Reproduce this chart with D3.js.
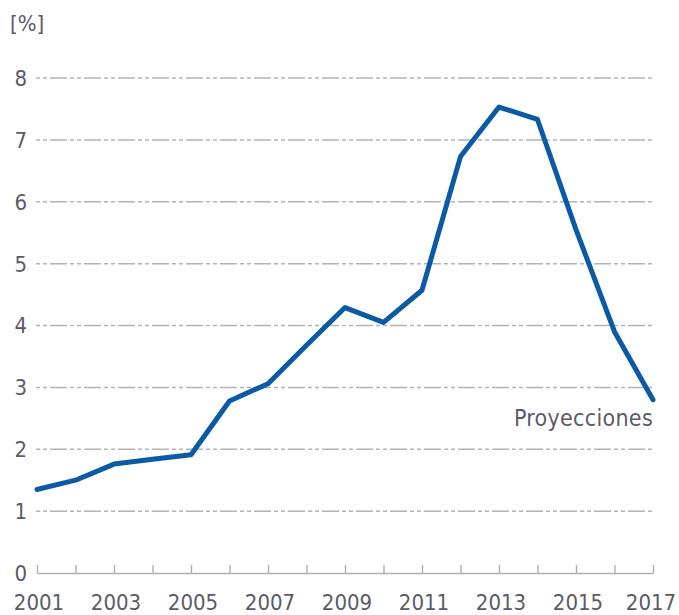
<!DOCTYPE html>
<html>
<head>
<meta charset="utf-8">
<script src="https://cdn.jsdelivr.net/npm/d3@7"></script>
<style>
  html, body { margin: 0; padding: 0; background: #fff; }
  svg { display: block; }
  text { font-family: "DejaVu Sans Condensed", "Liberation Sans Narrow", "Liberation Sans", sans-serif; fill: #5b5b68; }
</style>
</head>
<body>
<svg id="chart" width="679" height="615"></svg>
<script>
const years = [2001, 2002, 2003, 2004, 2005, 2006, 2007, 2008, 2009, 2010, 2011, 2012, 2013, 2014, 2015, 2016, 2017];
const values = [1.35, 1.50, 1.76, 1.84, 1.91, 2.78, 3.06, 3.68, 4.29, 4.05, 4.57, 6.73, 7.53, 7.33, 5.55, 3.90, 2.80];
const yTicks = [0, 1, 2, 3, 4, 5, 6, 7, 8];
const xTickLabels = [2001, 2003, 2005, 2007, 2009, 2011, 2013, 2015, 2017];
const unitLabel = "[%]";
const noteLabel = "Proyecciones";

const svg = d3.select("#chart");
const x = d3.scaleLinear().domain([2001, 2017]).range([37, 653]);
const y = d3.scaleLinear().domain([0, 8]).range([573, 78]);

// gridlines
svg.append("g")
  .selectAll("line")
  .data(yTicks.filter(d => d > 0))
  .join("line")
  .attr("x1", 36).attr("x2", 655)
  .attr("y1", d => y(d)).attr("y2", d => y(d))
  .attr("stroke", "#b4b4b8")
  .attr("stroke-width", 1.5)
  .attr("stroke-dasharray", "4,3,4,3,17,3");

// y labels
svg.append("g")
  .selectAll("text")
  .data(yTicks)
  .join("text")
  .attr("x", 27)
  .attr("y", d => y(d))
  .attr("dy", "0.36em")
  .attr("text-anchor", "end")
  .attr("font-size", 22)
  .text(d => d);

// x axis
const xAxis = d3.axisTop(x)
  .tickValues(years)
  .tickSize(8)
  .tickSizeOuter(0)
  .tickFormat("");
const gx = svg.append("g").attr("transform", `translate(0,${y(0)})`).call(xAxis);
gx.select(".domain").attr("stroke", "#b0b0b4").attr("stroke-width", 1.6);
gx.selectAll(".tick line").attr("stroke", "#b0b0b4").attr("stroke-width", 1.4);

svg.append("g")
  .selectAll("text")
  .data(xTickLabels)
  .join("text")
  .attr("x", d => x(d) + (d === 2017 ? -2 : 2))
  .attr("y", 610)
  .attr("text-anchor", "middle")
  .attr("font-size", 22)
  .text(d => d);

// line
const line = d3.line()
  .x((d, i) => x(years[i]))
  .y(d => y(d));
svg.append("path")
  .datum(values)
  .attr("d", line)
  .attr("fill", "none")
  .attr("stroke", "#0b5aa6")
  .attr("stroke-width", 5)
  .attr("stroke-linejoin", "round")
  .attr("stroke-linecap", "round");

// unit
svg.append("text")
  .attr("x", 10).attr("y", 31)
  .attr("font-size", 22)
  .text(unitLabel);

// note
svg.append("text")
  .attr("x", 653).attr("y", 426)
  .attr("text-anchor", "end")
  .attr("font-size", 23)
  .attr("letter-spacing", 0.3)
  .text(noteLabel);
</script>
</body>
</html>
